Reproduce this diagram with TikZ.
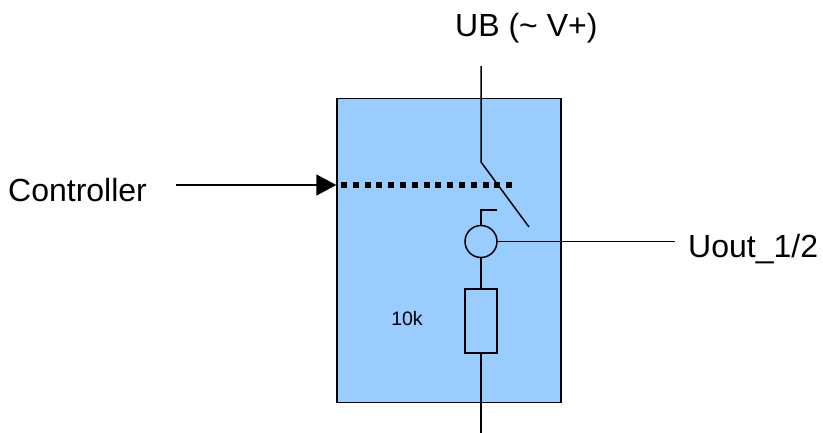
\documentclass[tikz,border=0pt]{standalone}
\usepackage{fontspec}
\setmainfont{Liberation Sans}
\usetikzlibrary{arrows.meta}
\tikzset{
  wire/.style={draw=black,line width=1.5pt},
  lbl/.style={inner sep=0pt,font=\fontsize{32}{36}\selectfont,anchor=base west},
}
\begin{document}
\begin{tikzpicture}[x=1pt,y=-1pt]
\useasboundingbox (0,0) rectangle (823,432);
\node[draw=black,line width=1.5pt,fill={rgb,255:red,153;green,204;blue,255},minimum width=224pt,minimum height=304pt,inner sep=0pt,anchor=north west] (box) at (336.3,97.5) {};
\node[lbl] (ub) at (455,36) {UB (\textasciitilde{} V+)};
\node[lbl] (ctl) at (8,201) {Controller};
\node[lbl] (uout) at (688,257) {Uout\_1/2};
\node[inner sep=0pt,font=\fontsize{19.5}{22}\selectfont] (k) at (407,319) {10k};
\coordinate (top) at (481,66);
\coordinate (sw1) at (481,162);
\coordinate (sw2) at (529,227);
\coordinate (cin) at (176,185);
\coordinate (bot) at (481,434);
\coordinate (dotend) at (513,185);
\coordinate (dotstart) at (341,185);
\coordinate (flagA) at (481,210);
\coordinate (flagB) at (497,210);
\node[draw=black,line width=1.5pt,circle,minimum size=32pt,inner sep=0pt] (c) at (481,241.5) {};
\coordinate (outend) at (675,241.5);
\node[draw=black,line width=1.5pt,minimum width=32pt,minimum height=64pt,inner sep=0pt] (r) at (481,321) {};
\draw[wire,line join=round] (top) -- (sw1) -- (sw2);
\draw[wire,-{Triangle[length=20pt,width=21pt]}] (cin) -- (box.west |- cin);
\draw[black,line width=6pt,dash pattern=on 6pt off 5.8pt] (dotstart) -- (dotend);
\draw[wire] (c.east) -- (c.east -| outend);
\draw[wire] (flagB) -- (flagA) -- (c.north);
\draw[wire] (c.south) -- (r.north);
\draw[wire] (r.south) -- (bot);
\end{tikzpicture}
\end{document}
